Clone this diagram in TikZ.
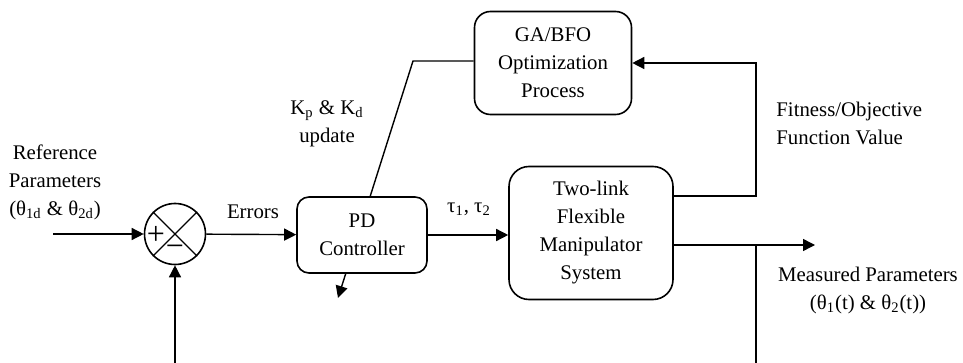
\documentclass[tikz,border=0pt]{standalone}
\usepackage{fontspec}
\setmainfont{Liberation Serif}
\usetikzlibrary{arrows.meta,positioning,calc,backgrounds}

\begin{document}
\begin{tikzpicture}[x=0.5pt, y=-0.5pt,
  font=\fontsize{10.4}{14}\selectfont,
  block/.style={draw, line width=0.8pt, fill=white, align=center, inner sep=0pt},
  wire/.style={line width=0.7pt},
  sig/.style={wire, -{Triangle[length=6pt,width=6pt]}},
  lbl/.style={align=center, inner sep=0pt},
  signlbl/.style={inner sep=0pt, font=\fontsize{16}{16}\selectfont}]

\useasboundingbox (0,0) rectangle (963,363);

% ================= BLOCKS =================
\node[circle, draw, line width=0.8pt, minimum size=30.5pt, inner sep=0pt] (sum) at (175,234) {};
\node[block, rounded corners=6pt, minimum width=65pt, minimum height=38pt] (pd) at (362,235) {PD\\Controller};
\node[block, rounded corners=10pt, minimum width=82pt, minimum height=66.5pt] (plant) at (591,233) {Two-link\\Flexible\\Manipulator\\System};
\node[block, rounded corners=8pt, minimum width=78.5pt, minimum height=51.5pt] (ga) at (553,63) {GA/BFO\\Optimization\\Process};

% --- summing junction ---
\draw[wire] (sum.45) -- (sum.225);
\draw[wire] (sum.135) -- (sum.-45);
\node[signlbl] (plus) at (156,235) {+};
\node[signlbl] (minus) at (175,251) {−};

% ================= LABELS =================
\node[lbl] (reflbl) at (55,182) {Reference\\Parameters\\(θ\textsubscript{1d} \& θ\textsubscript{2d})};
\node[lbl] (errlbl) at (253,212) {Errors};
\node[lbl] (taulbl) at (469,209) {τ\textsubscript{1}, τ\textsubscript{2}};
\node[lbl] (gainlbl) at (327,124) {K\textsubscript{p} \& K\textsubscript{d}\\update};
\node[lbl, align=left, anchor=west] (fitlbl) at (776,123) {Fitness/Objective\\Function Value};
\node[lbl] (measlbl) at (868,290) {Measured Parameters\\(θ\textsubscript{1}(t) \& θ\textsubscript{2}(t))};

% --- free ends ---
\coordinate (refin) at (53,234);
\coordinate (fbleft) at (175,363);
\coordinate (fitturn) at (756,196);
\coordinate (outsplit) at (756,245);
\coordinate (outend) at (815,245);
\coordinate (fbright) at (756,363);
\coordinate (gaknee) at (413,61);
\coordinate (tunetip) at (338,298);

% ================= CONNECTORS =================
\draw[sig] (refin) -- (sum);
\draw[sig] (sum) -- (pd);
\draw[sig] (pd.east) -- (pd.east -| plant.west);
\draw[sig] (plant.east |- fitturn) -- (fitturn) |- (ga.east);
\draw[sig] (plant.east |- outend) -- (outend);
\draw[wire] (outsplit) -- (fbright);
\draw[sig] (fbleft) -- (sum.south);

% --- gain update line (behind PD block) ---
\begin{scope}[on background layer]
\draw[sig] (ga.west |- gaknee) -- (gaknee) -- (tunetip);
\end{scope}

\end{tikzpicture}
\end{document}
